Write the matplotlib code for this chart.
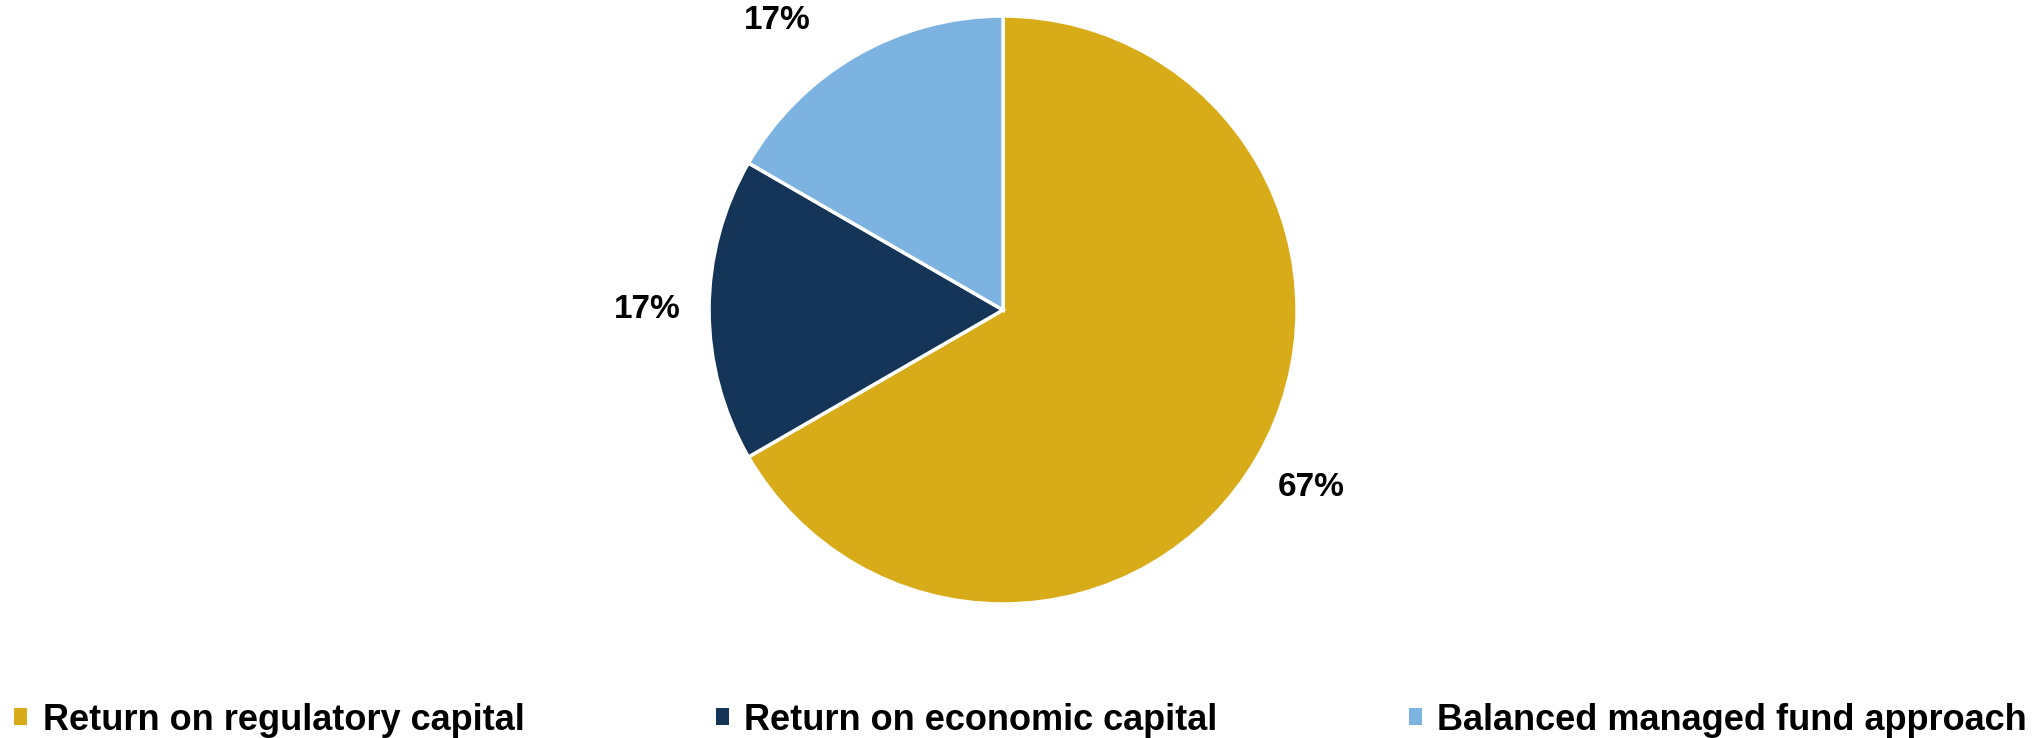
import numpy as np
import matplotlib.pyplot as plt
from matplotlib.patches import Patch

# data
categories = ['Return on regulatory capital', 'Return on economic capital', 'Balanced managed fund approach']
shares = [4, 1, 1]
colors = ['#D8AB18', '#143458', '#7DB3E0']

plt.rcParams['font.family'] = ['Liberation Sans', 'DejaVu Sans']

fig = plt.figure(figsize=(20.41, 7.38), dpi=100)
ax = fig.add_axes([0.3474, 0.1816, 0.2881, 0.7967])

wedges, texts, autotexts = ax.pie(
    shares, colors=colors, startangle=90, counterclock=False,
    autopct='%1.0f%%', pctdistance=1.21,
    wedgeprops=dict(edgecolor='white', linewidth=2.5),
    textprops=dict(fontsize=24, fontweight='bold', color='black'))

# the top label sits a bit further round, like the original layout
w = wedges[2]
ang = np.deg2rad((w.theta1 + w.theta2) / 2 + 8)
autotexts[2].set_position((1.25 * np.cos(ang), 1.25 * np.sin(ang)))

ax.set_xlim(-1, 1)
ax.set_ylim(-1, 1)
ax.set_aspect('equal')

handles = [Patch(facecolor=c, edgecolor='none') for c in colors]
fig.legend(handles, categories, loc='center', bbox_to_anchor=(0.5, 0.024), ncol=3,
           frameon=False, handlelength=0.36, handleheight=0.36, handletextpad=0.42,
           columnspacing=5.3, prop=dict(size=26, weight='bold'))

fig.savefig('out.png', dpi=100)
